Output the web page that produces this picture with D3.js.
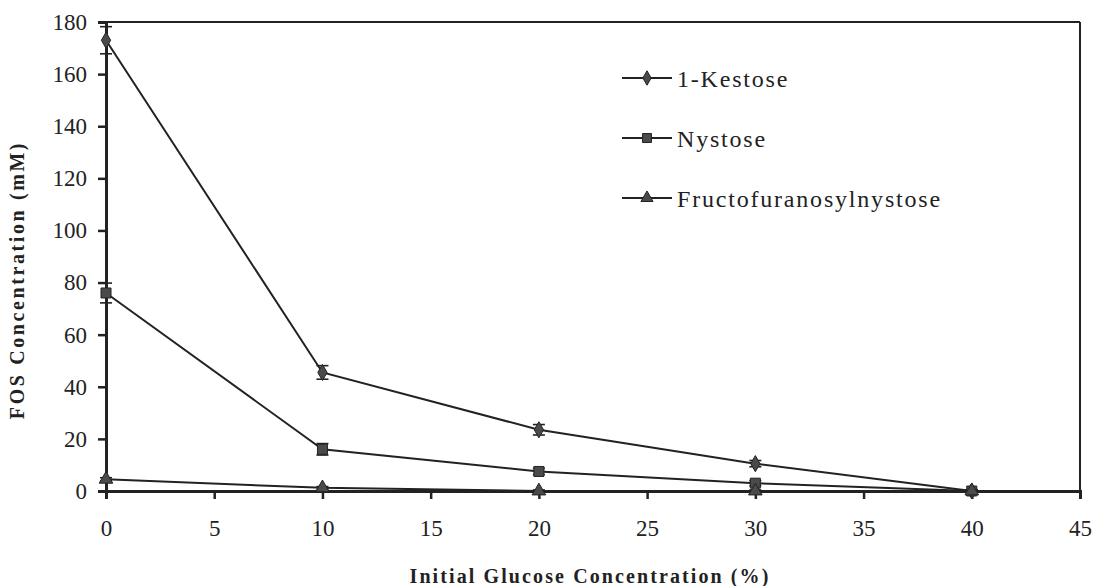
<!DOCTYPE html>
<html>
<head>
<meta charset="utf-8">
<script src="https://cdn.jsdelivr.net/npm/d3@7/dist/d3.min.js"></script>
<style>
  body { margin: 0; background: #fff; }
  svg { display: block; }
  text { font-family: "Liberation Serif", "Times New Roman", serif; fill: #222; }
</style>
</head>
<body>
<svg id="chart" width="1093" height="586"></svg>
<script>
// Initial glucose concentration (%)
const glucose = [0, 10, 20, 30, 40];

// FOS concentrations (mM) and standard deviations
const kestose = [173, 45.5, 23.5, 10.5, 0];
const kestoseErr = [5.2, 2.6, 2, 1.2, 0.5];
const nystose = [76, 16, 7.5, 3, 0];
const nystoseErr = [3.8, 2.2, 1.2, 1, 0.5];
const ffn = [4.5, 1.2, 0, 0, 0];
const ffnErr = [0.6, 0.5, 0.4, 0.4, 0.4];

const seriesNames = ["1-Kestose", "Nystose", "Fructofuranosylnystose"];
const xTicks = [0, 5, 10, 15, 20, 25, 30, 35, 40, 45];
const yTicks = [0, 20, 40, 60, 80, 100, 120, 140, 160, 180];

const series = [
  { name: seriesNames[0], values: kestose, err: kestoseErr, symbol: d3.symbolDiamond, size: 75 },
  { name: seriesNames[1], values: nystose, err: nystoseErr, symbol: d3.symbolSquare, size: 100 },
  { name: seriesNames[2], values: ffn, err: ffnErr, symbol: d3.symbolTriangle, size: 80 }
];

const svg = d3.select("#chart");
const m = { left: 106, right: 1080, top: 22, bottom: 491 };

const x = d3.scaleLinear().domain([0, 45]).range([m.left, m.right]);
const y = d3.scaleLinear().domain([0, 180]).range([m.bottom, m.top]);

const ink = "#222";
const markFill = "#4a4a4a";

// Frame: top and right border
svg.append("line")
  .attr("x1", m.left).attr("x2", m.right).attr("y1", m.top).attr("y2", m.top)
  .attr("stroke", ink).attr("stroke-width", 2);
svg.append("line")
  .attr("x1", m.right).attr("x2", m.right).attr("y1", m.top).attr("y2", m.bottom)
  .attr("stroke", ink).attr("stroke-width", 2);

// Y axis
const yAxis = svg.append("g")
  .attr("transform", `translate(${m.left},0)`)
  .call(d3.axisLeft(y).tickValues(yTicks).tickSize(8).tickPadding(11).tickFormat(d3.format("d")));
yAxis.select(".domain").attr("stroke", ink).attr("stroke-width", 3);
yAxis.selectAll(".tick line").attr("stroke", ink).attr("stroke-width", 2.5);
yAxis.selectAll(".tick text")
  .style("font-family", "Liberation Serif, serif").style("font-size", "23px").attr("fill", ink);

// X axis
const xAxis = svg.append("g")
  .attr("transform", `translate(0,${m.bottom})`)
  .call(d3.axisBottom(x).tickValues(xTicks).tickSize(8).tickPadding(21).tickFormat(d3.format("d")));
xAxis.select(".domain").attr("stroke", ink).attr("stroke-width", 3);
xAxis.selectAll(".tick line").attr("stroke", ink).attr("stroke-width", 2.5);
xAxis.selectAll(".tick text")
  .style("font-family", "Liberation Serif, serif").style("font-size", "23px").attr("fill", ink);

// Lines
const line = d3.line().x((d, i) => x(glucose[i])).y(d => y(d));
series.forEach(s => {
  svg.append("path")
    .datum(s.values)
    .attr("fill", "none")
    .attr("stroke", ink)
    .attr("stroke-width", 2)
    .attr("d", line);
});

// Error bars
const cap = 6;
series.forEach(s => {
  const g = svg.append("g").attr("stroke", ink).attr("stroke-width", 1.6);
  s.values.forEach((v, i) => {
    const cx = x(glucose[i]);
    const y1 = y(v + s.err[i]);
    const y2 = y(v - s.err[i]);
    g.append("line").attr("x1", cx).attr("x2", cx).attr("y1", y1).attr("y2", y2);
    g.append("line").attr("x1", cx - cap).attr("x2", cx + cap).attr("y1", y1).attr("y2", y1);
    g.append("line").attr("x1", cx - cap).attr("x2", cx + cap).attr("y1", y2).attr("y2", y2);
  });
});

// Markers
series.forEach(s => {
  svg.append("g").selectAll("path")
    .data(s.values)
    .join("path")
    .attr("transform", (d, i) => `translate(${x(glucose[i])},${y(d)})`)
    .attr("d", d3.symbol().type(s.symbol).size(s.size))
    .attr("fill", markFill)
    .attr("stroke", ink)
    .attr("stroke-width", 1);
});

// Legend
const legend = svg.append("g");
const legY = [78, 138, 198];
series.forEach((s, i) => {
  const ly = legY[i];
  legend.append("line")
    .attr("x1", 622).attr("x2", 672).attr("y1", ly).attr("y2", ly)
    .attr("stroke", ink).attr("stroke-width", 2);
  legend.append("path")
    .attr("transform", `translate(647,${ly})`)
    .attr("d", d3.symbol().type(s.symbol).size(s.size * 0.8))
    .attr("fill", markFill).attr("stroke", ink).attr("stroke-width", 1);
  legend.append("text")
    .attr("x", 677).attr("y", ly + 9)
    .style("font-size", "24px")
    .style("letter-spacing", "1.8px")
    .text(s.name);
});

// Axis titles
svg.append("text")
  .attr("x", 590).attr("y", 583)
  .attr("text-anchor", "middle")
  .style("font-size", "20px").style("font-weight", "bold")
  .style("letter-spacing", "2.1px")
  .text("Initial Glucose Concentration (%)");

svg.append("text")
  .attr("transform", `translate(24,280) rotate(-90)`)
  .attr("text-anchor", "middle")
  .style("font-size", "20px").style("font-weight", "bold")
  .style("letter-spacing", "2.6px")
  .text("FOS Concentration (mM)");
</script>
</body>
</html>
